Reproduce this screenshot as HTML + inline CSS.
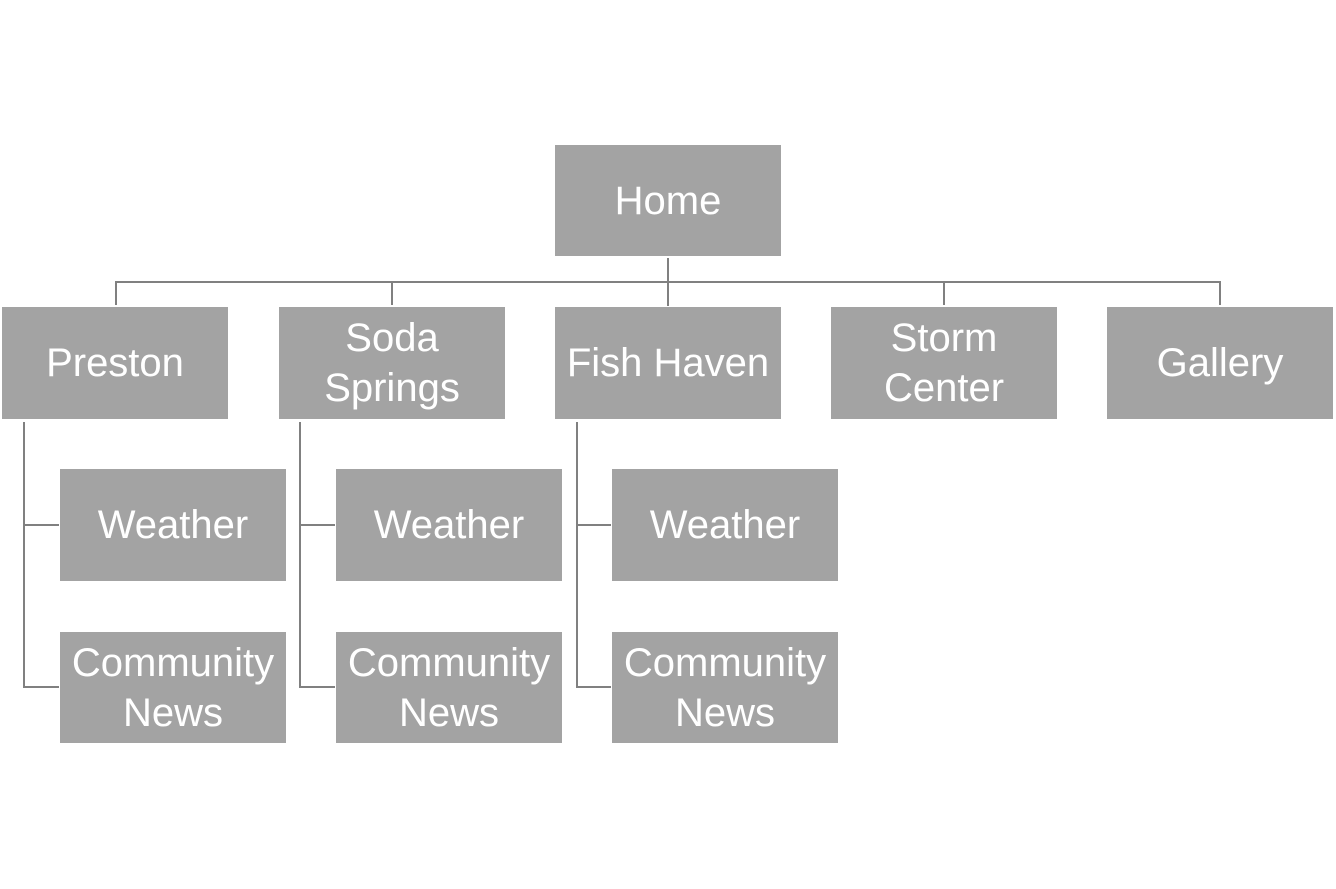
<!DOCTYPE html>
<html><head><meta charset="utf-8"><style>
html,body{margin:0;padding:0;background:#fff;}
body{width:1336px;height:889px;position:relative;overflow:hidden;font-family:"Liberation Sans",sans-serif;}
.b{position:absolute;background:#a3a3a3;color:#fff;display:flex;align-items:center;justify-content:center;text-align:center;font-size:40px;line-height:50px;width:226px;height:112px;}
.l{position:absolute;background:#808080;}
</style></head><body>
<div class="b" style="left:555px;top:145px;height:111px">Home</div>
<div class="l" style="left:667px;top:258px;width:2px;height:48px"></div>
<div class="l" style="left:115px;top:281px;width:1106px;height:2px"></div>
<div class="l" style="left:115px;top:281px;width:2px;height:24px"></div>
<div class="l" style="left:391px;top:281px;width:2px;height:24px"></div>
<div class="l" style="left:943px;top:281px;width:2px;height:24px"></div>
<div class="l" style="left:1219px;top:281px;width:2px;height:24px"></div>

<div class="b" style="left:2px;top:307px">Preston</div>
<div class="b" style="left:279px;top:307px">Soda<br>Springs</div>
<div class="b" style="left:555px;top:307px">Fish Haven</div>
<div class="b" style="left:831px;top:307px">Storm<br>Center</div>
<div class="b" style="left:1107px;top:307px">Gallery</div>

<div class="l" style="left:23px;top:422px;width:2px;height:266px"></div>
<div class="l" style="left:23px;top:524px;width:36px;height:2px"></div>
<div class="l" style="left:23px;top:686px;width:36px;height:2px"></div>
<div class="l" style="left:299px;top:422px;width:2px;height:266px"></div>
<div class="l" style="left:299px;top:524px;width:36px;height:2px"></div>
<div class="l" style="left:299px;top:686px;width:36px;height:2px"></div>
<div class="l" style="left:576px;top:422px;width:2px;height:266px"></div>
<div class="l" style="left:576px;top:524px;width:35px;height:2px"></div>
<div class="l" style="left:576px;top:686px;width:35px;height:2px"></div>

<div class="b" style="left:60px;top:469px">Weather</div>
<div class="b" style="left:60px;top:632px;height:111px">Community<br>News</div>
<div class="b" style="left:336px;top:469px">Weather</div>
<div class="b" style="left:336px;top:632px;height:111px">Community<br>News</div>
<div class="b" style="left:612px;top:469px">Weather</div>
<div class="b" style="left:612px;top:632px;height:111px">Community<br>News</div>
</body></html>
